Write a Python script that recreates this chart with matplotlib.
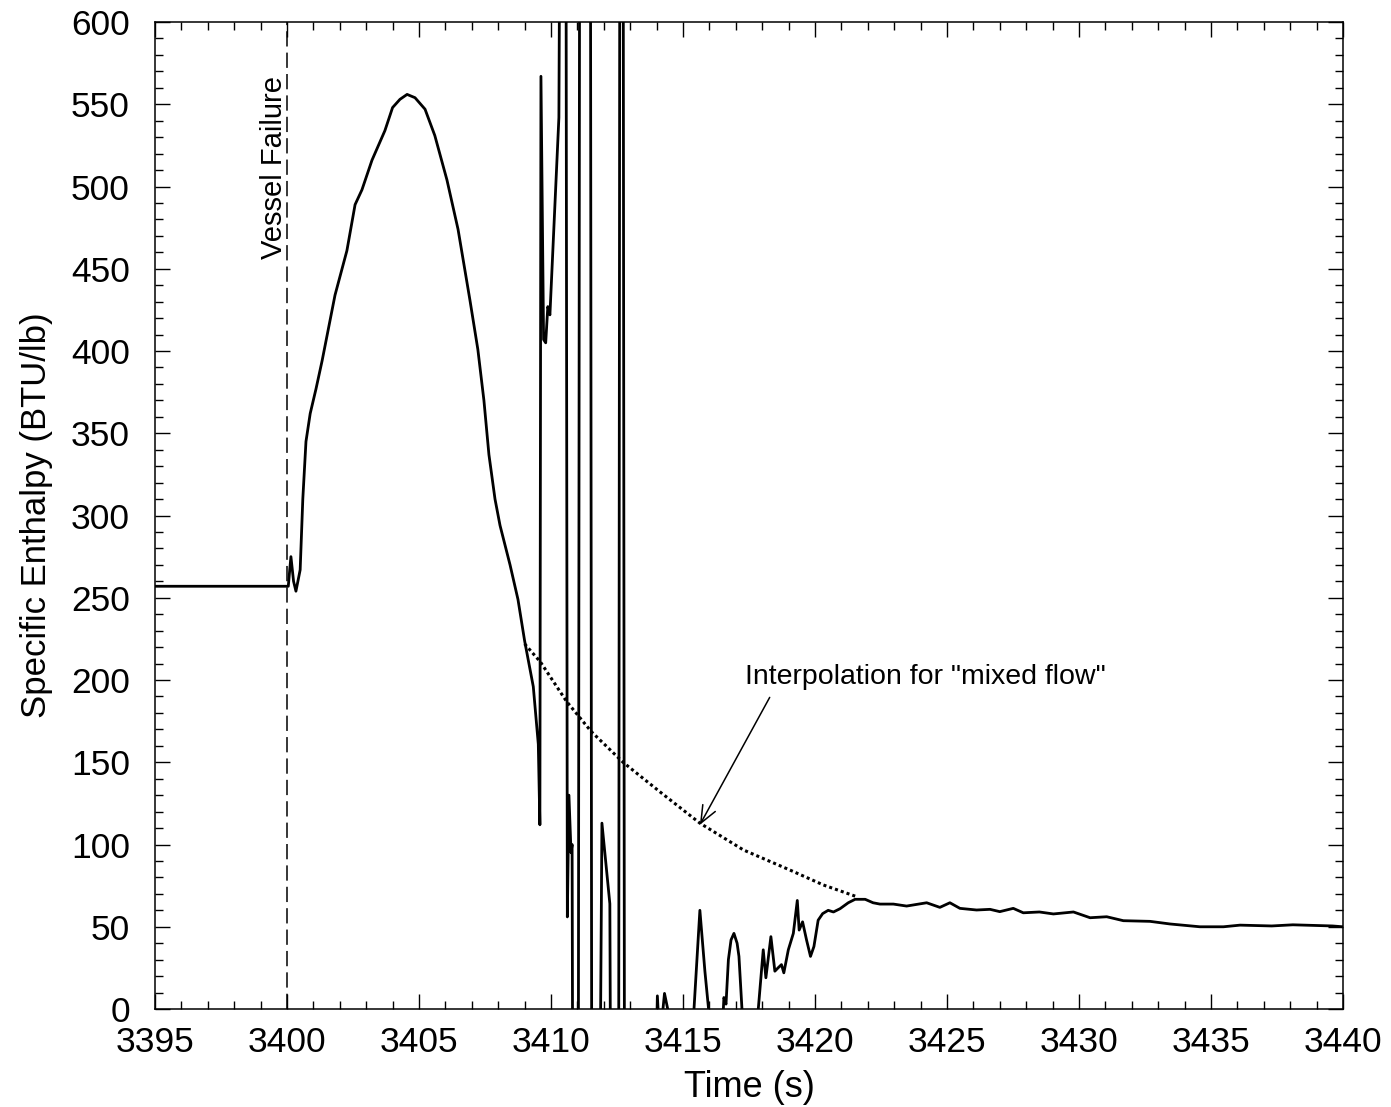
import matplotlib
matplotlib.use('Agg')
import matplotlib.pyplot as plt
from matplotlib.ticker import MultipleLocator

plt.rcParams['font.family'] = ['Liberation Sans', 'DejaVu Sans']

# Curva calculada (valores fora da escala cortados pelo eixo)
TIME = [3395.0, 3400.05, 3400.15, 3400.25, 3400.34, 3400.5, 3400.6, 3400.72,
        3400.88, 3401.1, 3401.33, 3401.82, 3402.27, 3402.58, 3402.84, 3403.22,
        3403.71, 3404.0, 3404.28, 3404.55, 3404.85, 3405.23, 3405.6, 3406.06,
        3406.48, 3406.93, 3407.23, 3407.46, 3407.65, 3407.88, 3408.07, 3408.45,
        3408.75, 3409.0, 3409.33, 3409.52, 3409.58, 3409.62, 3409.72, 3409.8,
        3409.88, 3409.96, 3410.3, 3410.4, 3410.55, 3410.62, 3410.68, 3410.76,
        3410.8, 3410.86, 3411.02, 3411.1, 3411.48, 3411.56, 3411.75, 3411.93,
        3412.1, 3412.23, 3412.32, 3412.55, 3412.62, 3412.72, 3412.8, 3413.98,
        3414.03, 3414.12, 3414.3, 3414.55, 3415.38, 3415.64, 3415.83, 3416.03,
        3416.5, 3416.55, 3416.63, 3416.72, 3416.82, 3416.93, 3417.05, 3417.12,
        3417.27, 3417.8, 3418.04, 3418.14, 3418.33, 3418.48, 3418.6, 3418.73,
        3418.82, 3418.99, 3419.18, 3419.33, 3419.4, 3419.53, 3419.68, 3419.83,
        3419.96, 3420.12, 3420.29, 3420.5, 3420.7, 3420.95, 3421.26, 3421.52,
        3421.9, 3422.2, 3422.46, 3422.97, 3423.47, 3424.23, 3424.73, 3425.11,
        3425.49, 3426.12, 3426.63, 3427.0, 3427.51, 3427.89, 3428.5, 3429.03,
        3429.79, 3430.42, 3431.05, 3431.68, 3432.69, 3433.45, 3434.58, 3435.47,
        3436.1, 3437.3, 3438.1, 3439.6, 3440.0]
ENTHALPY = [257, 257, 275, 260, 254, 267, 310, 345,
            362, 377, 394, 434, 461, 489, 498, 516,
            534, 548, 553, 556, 554, 547, 531, 504,
            474, 431, 401, 370, 337, 310, 294, 270,
            249, 224, 196, 161, 112, 567, 407, 405,
            427, 422, 542, 900, 900, 56, 130, 95,
            100, -300, -300, 900, 900, -300, -300, 113,
            85, 64, -300, -300, 900, 900, -300, -30,
            8, -20, 9.5, -10, -10, 60, 23, -10,
            -10, 7, 3, 30, 42, 46, 40, 32,
            -10, -10, 36, 19, 44, 23, 25, 27,
            22, 36, 46, 66, 48, 53, 42, 32,
            38, 54, 58, 60, 59, 61, 64.6, 66.7,
            66.7, 64.6, 63.8, 63.8, 62.6, 64.6, 61.8, 64.6,
            61.2, 60.2, 60.6, 59.2, 61.2, 58.5, 59, 57.8,
            59, 55.5, 56.1, 53.7, 53.3, 51.7, 50, 50,
            51, 50.5, 51.2, 50.5, 50]

# Interpolação para "mixed flow"
INTERP_TIME = [3409.0, 3409.6, 3410.59, 3411.53, 3412.73, 3414.13, 3415.64,
               3417.29, 3419.05, 3420.32, 3421.58]
INTERP_ENTHALPY = [222, 211, 187, 168.6, 150, 132, 113, 96.7, 84.5, 75.4, 68.3]

VESSEL_FAILURE_TIME = 3400

fig = plt.figure(figsize=(13.91, 11.07), dpi=100)
ax = fig.add_axes([0.1114, 0.0885, 0.8541, 0.8916])

ax.plot(TIME, ENTHALPY, color='black', linewidth=2.0)
ax.plot(INTERP_TIME, INTERP_ENTHALPY, color='black', linewidth=2.2,
        linestyle=(0, (1, 1.0)))
ax.axvline(VESSEL_FAILURE_TIME, color='black', linewidth=1.1,
           linestyle=(0, (10, 4)))

ax.text(VESSEL_FAILURE_TIME + 0.05, 567, 'Vessel Failure', rotation=90,
        ha='right', va='top', fontsize=21)

ax.annotate('Interpolation for "mixed flow"', xy=(3415.64, 112),
            xytext=(3417.35, 202), ha='left', va='center', fontsize=20.5,
            arrowprops=dict(arrowstyle='->,head_length=0.6,head_width=0.25',
                            color='black', linewidth=1.1, relpos=(0.08, 0),
                            shrinkA=4, shrinkB=0))

ax.set_xlim(3395, 3440)
ax.set_ylim(0, 600)
ax.xaxis.set_major_locator(MultipleLocator(5))
ax.xaxis.set_minor_locator(MultipleLocator(1))
ax.yaxis.set_major_locator(MultipleLocator(50))
ax.yaxis.set_minor_locator(MultipleLocator(10))
ax.tick_params(which='both', direction='in', top=True, right=True,
               labelsize=25.5, width=1.0)
ax.tick_params(which='major', length=11)
ax.tick_params(axis='x', which='major', pad=12)
ax.tick_params(axis='y', which='major', pad=18)
ax.tick_params(which='minor', length=6)
for spine in ax.spines.values():
    spine.set_linewidth(1.1)

ax.set_xlabel('Time (s)', fontsize=26, labelpad=8)
ax.set_ylabel('Specific Enthalpy (BTU/lb)', fontsize=25, labelpad=13)

plt.savefig('out.png', dpi=100, facecolor='white')
plt.close()
